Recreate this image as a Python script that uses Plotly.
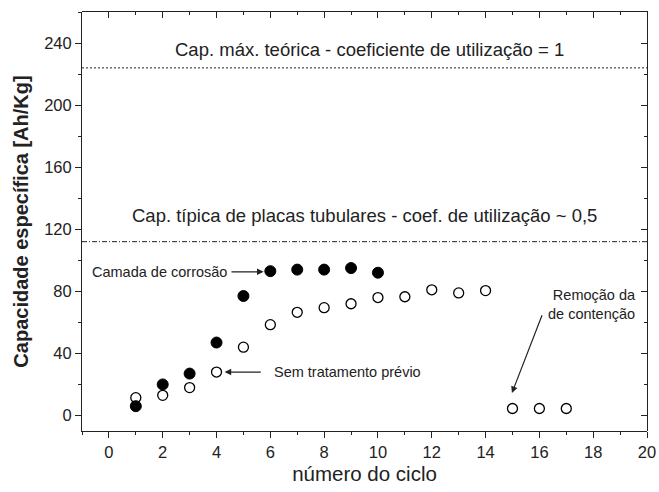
import plotly.graph_objects as go

# Data
cycles_filled = [1, 2, 3, 4, 5, 6, 7, 8, 9, 10]
cap_filled = [6, 20, 27, 47, 77, 93, 94, 94, 95, 92]  # Camada de corrosão

cycles_open = [1, 2, 3, 4, 5, 6, 7, 8, 9, 10, 11, 12, 13, 14, 15, 16, 17]
cap_open = [11.5, 13, 18, 28, 44, 58.5, 66.5, 69.5, 72, 76, 76.5, 81, 79, 80.5, 4.5, 4.5, 4.5]  # Sem tratamento prévio

cap_max_teorica = 224
cap_tipica = 112

x_range = [-1, 20]
y_range = [-10, 260]

FONT = "Liberation Sans, Arial, sans-serif"
INK = "#222"

fig = go.Figure()

fig.add_trace(go.Scatter(
    x=x_range, y=[cap_max_teorica, cap_max_teorica], mode="lines",
    line=dict(color=INK, width=1, dash="2px,2px"), showlegend=False, hoverinfo="skip"))
fig.add_trace(go.Scatter(
    x=x_range, y=[cap_tipica, cap_tipica], mode="lines",
    line=dict(color=INK, width=1, dash="5px,2px,1px,2px"), showlegend=False, hoverinfo="skip"))

fig.add_trace(go.Scatter(
    x=cycles_filled, y=cap_filled, mode="markers",
    marker=dict(symbol="circle", size=11, color="black", line=dict(color="black", width=1)),
    showlegend=False))
fig.add_trace(go.Scatter(
    x=cycles_open, y=cap_open, mode="markers",
    marker=dict(symbol="circle-open", size=10, color="black", line=dict(color="black", width=1.3)),
    showlegend=False))

# invisible trace for the top/right (inside-tick) frame axes
fig.add_trace(go.Scatter(x=x_range, y=y_range, xaxis="x2", yaxis="y2",
                         mode="markers", marker=dict(color="rgba(0,0,0,0)"),
                         showlegend=False, hoverinfo="skip"))

big_font = dict(family=FONT, size=18.5, color=INK)
small_font = dict(family=FONT, size=14.5, color=INK)
arrow_style = dict(xref="x", yref="y", axref="x", ayref="y", text="", showarrow=True,
                   arrowhead=2, arrowsize=1.1, arrowwidth=1.2, arrowcolor=INK)

annotations = [
    dict(x=9.7, y=236, xref="x", yref="y", text="Cap. máx. teórica - coeficiente de utilização = 1",
         showarrow=False, font=big_font),
    dict(x=9.5, y=129, xref="x", yref="y", text="Cap. típica de placas tubulares - coef. de utilização ~ 0,5",
         showarrow=False, font=big_font),
    dict(x=-0.72, y=92.6, xref="x", yref="y", text="Camada de corrosão", xanchor="left",
         showarrow=False, font=small_font),
    dict(x=6.08, y=28, xref="x", yref="y", text="Sem tratamento prévio", xanchor="left",
         showarrow=False, font=small_font),
    dict(x=19.65, y=71.6, xref="x", yref="y", text="Remoção da<br>de contenção", xanchor="right",
         align="right", showarrow=False, font=small_font),
    dict(x=5.75, y=92.6, ax=4.5, ay=92.6, **arrow_style),
    dict(x=4.3, y=28, ax=5.7, ay=28, **arrow_style),
    dict(x=14.98, y=14.5, ax=16.12, ay=65.5, **arrow_style),
]

axis_common = dict(showgrid=False, zeroline=False, showline=True, linecolor=INK, linewidth=1,
                   tickwidth=1, tickcolor=INK, automargin=False)

fig.update_layout(
    width=659, height=492,
    margin=dict(l=82, r=12, t=12, b=61, autoexpand=False),
    paper_bgcolor="white", plot_bgcolor="rgba(0,0,0,0)",
    font=dict(family=FONT, color=INK),
    annotations=annotations,
    xaxis=dict(
        domain=[0, 1], anchor="y",
        range=x_range, tickmode="linear", tick0=0, dtick=2,
        ticks="outside", ticklen=6,
        minor=dict(dtick=1, tick0=0, ticks="outside", ticklen=3, tickcolor=INK),
        tickfont=dict(family=FONT, size=16.5, color=INK),
        title=dict(text="número do ciclo", font=dict(family=FONT, size=20.5, color=INK), standoff=6),
        **axis_common,
    ),
    yaxis=dict(
        domain=[0, 1], anchor="x",
        range=y_range, tickmode="linear", tick0=0, dtick=40,
        ticks="outside", ticklen=6,
        minor=dict(dtick=20, tick0=0, ticks="outside", ticklen=3, tickcolor=INK),
        tickfont=dict(family=FONT, size=16.5, color=INK),
        title=dict(text="<b>Capacidade específica [Ah/Kg]</b>",
                   font=dict(family=FONT, size=20, color=INK), standoff=10),
        **axis_common,
    ),
    xaxis2=dict(
        domain=[0, 1], side="top", anchor="y2",
        range=x_range, tickmode="linear", tick0=0, dtick=2,
        ticks="inside", ticklen=6, showticklabels=False,
        minor=dict(dtick=1, tick0=0, ticks="inside", ticklen=3, tickcolor=INK),
        **axis_common,
    ),
    yaxis2=dict(
        domain=[0, 1], side="right", anchor="x2",
        range=y_range, tickmode="linear", tick0=0, dtick=40,
        ticks="inside", ticklen=6, showticklabels=False,
        minor=dict(dtick=20, tick0=0, ticks="inside", ticklen=3, tickcolor=INK),
        **axis_common,
    ),
)

fig.write_html("out.html", config={"displayModeBar": False},
               post_script="document.body.style.margin='0';document.body.style.overflow='hidden';")
